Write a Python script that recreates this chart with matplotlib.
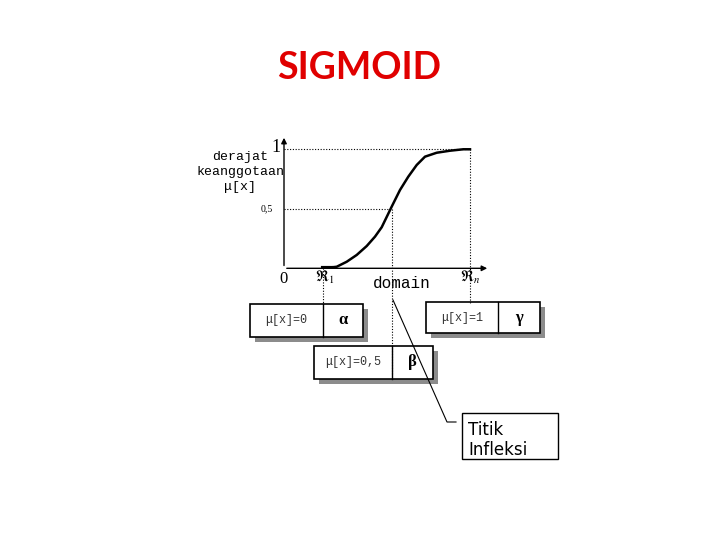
import matplotlib
matplotlib.use("Agg")
import matplotlib.pyplot as plt
from matplotlib.patches import Rectangle

plt.rcParams['mathtext.fontset'] = 'stix'

# sigmoid curve (domain units, membership)
x_domain = [39.3, 52.7, 62.7, 72.7, 82.7, 91, 97.7, 107.7, 116, 124.3,
            132.7, 141, 152.7, 166, 179.3, 186]
mu = [0.0, 0.013, 0.055, 0.112, 0.187, 0.266, 0.345, 0.518, 0.658, 0.770,
      0.868, 0.938, 0.971, 0.988, 1.0, 1.0]
r1, r_mid, rn = 39.3, 107.7, 186

# table boxes: (left, top, right, bottom, divider, left text, right text)
boxes = [
    (250, 304, 363, 337, 323, "μ[x]=0", "α"),
    (426, 302, 540, 333, 498, "μ[x]=1", "γ"),
    (314, 346, 433, 379, 392, "μ[x]=0,5", "β"),
]

fig = plt.figure(figsize=(7.2, 5.4), dpi=100)

# overlay in pixel coords for the annotations
ov = fig.add_axes([0, 0, 1, 1])
ov.set_xlim(0, 720)
ov.set_ylim(540, 0)
ov.axis("off")

ov.text(359, 68, "SIGMOID", color="#e00000", fontsize=27, fontweight="bold",
        family="Lato", ha="center", va="center")

# axes for the curve
ax = fig.add_axes([284 / 720, (540 - 268.3) / 540, 206 / 720, 133.3 / 540])
ax.set_xlim(0, 206)
ax.set_ylim(0, 1.12)
ax.axis("off")
ax.plot(x_domain, mu, color="black", lw=1.8, solid_joinstyle="round")
ax.plot([r1, r1 + 8], [0, 0], color="black", lw=3)
ax.annotate("", xy=(206, 0), xytext=(0, 0),
            arrowprops=dict(arrowstyle="-|>", color="black", lw=1, mutation_scale=8))
ax.annotate("", xy=(0, 1.12), xytext=(0, 0),
            arrowprops=dict(arrowstyle="-|>", color="black", lw=1, mutation_scale=8))
ax.plot([0, rn], [1, 1], color="black", lw=0.8, ls=(0, (1, 1.5)))
ax.plot([0, r_mid - 2], [0.5, 0.5], color="black", lw=0.8, ls=(0, (1, 1.5)))
ax.plot([rn, rn], [1, -0.3], color="black", lw=0.8, ls=(0, (1, 1.5)), clip_on=False)
ax.plot([r_mid, r_mid], [0.5, -0.9], color="black", lw=0.8, ls=(0, (1, 1.5)), clip_on=False)
ax.plot([r1, r1], [0, -0.3], color="black", lw=0.8, ls=(0, (1, 1.5)), clip_on=False)

# axis labels
mono = "Liberation Mono"
ov.text(240, 157, "derajat", family=mono, fontsize=9.5, ha="center", va="center")
ov.text(240, 172, "keanggotaan", family=mono, fontsize=9.5, ha="center", va="center")
ov.text(240, 187, "μ[x]", family=mono, fontsize=9.5, ha="center", va="center")
ov.text(276, 147, "1", family="Liberation Serif", fontsize=13, ha="center", va="center")
ov.text(267, 209, "0,5", family="Liberation Serif", fontsize=7, ha="center", va="center")
ov.text(283, 279, "0", family="Liberation Serif", fontsize=12, ha="center", va="center")
ov.text(325, 277, r"$\Re_1$", fontsize=11, ha="center", va="center")
ov.text(470, 277, r"$\Re_n$", fontsize=11, ha="center", va="center")
ov.text(402, 284, "domain", family=mono, fontsize=11.5, ha="center", va="center")

# boxes with drop shadows
for l, t, r, b, d, lt, rt in boxes:
    ov.add_patch(Rectangle((l + 5, t + 5), r - l, b - t, facecolor="#8c8c8c",
                           edgecolor="none", zorder=1))
    ov.add_patch(Rectangle((l, t), r - l, b - t, facecolor="white",
                           edgecolor="black", lw=1.2, zorder=2))
    ov.plot([d, d], [t, b], color="black", lw=1, zorder=3)
    ov.text((l + d) / 2, (t + b) / 2, lt, family=mono, fontsize=8.5,
            color="#333333", ha="center", va="center", zorder=4)
    ov.text((d + r) / 2, (t + b) / 2, rt, family="Liberation Serif", fontweight="bold",
            fontsize=12, ha="center", va="center", zorder=4)

# pointer to the inflection label
ov.plot([393, 447, 456], [300, 422, 422], color="black", lw=0.8, zorder=5)
ov.add_patch(Rectangle((462, 413), 96, 46, facecolor="white", edgecolor="black",
                       lw=1, zorder=2))
ov.text(468, 430, "Titik", fontsize=12, ha="left", va="center", family="DejaVu Sans")
ov.text(468, 450, "Infleksi", fontsize=12, ha="left", va="center", family="DejaVu Sans")

fig.savefig("out.png", dpi=100)
